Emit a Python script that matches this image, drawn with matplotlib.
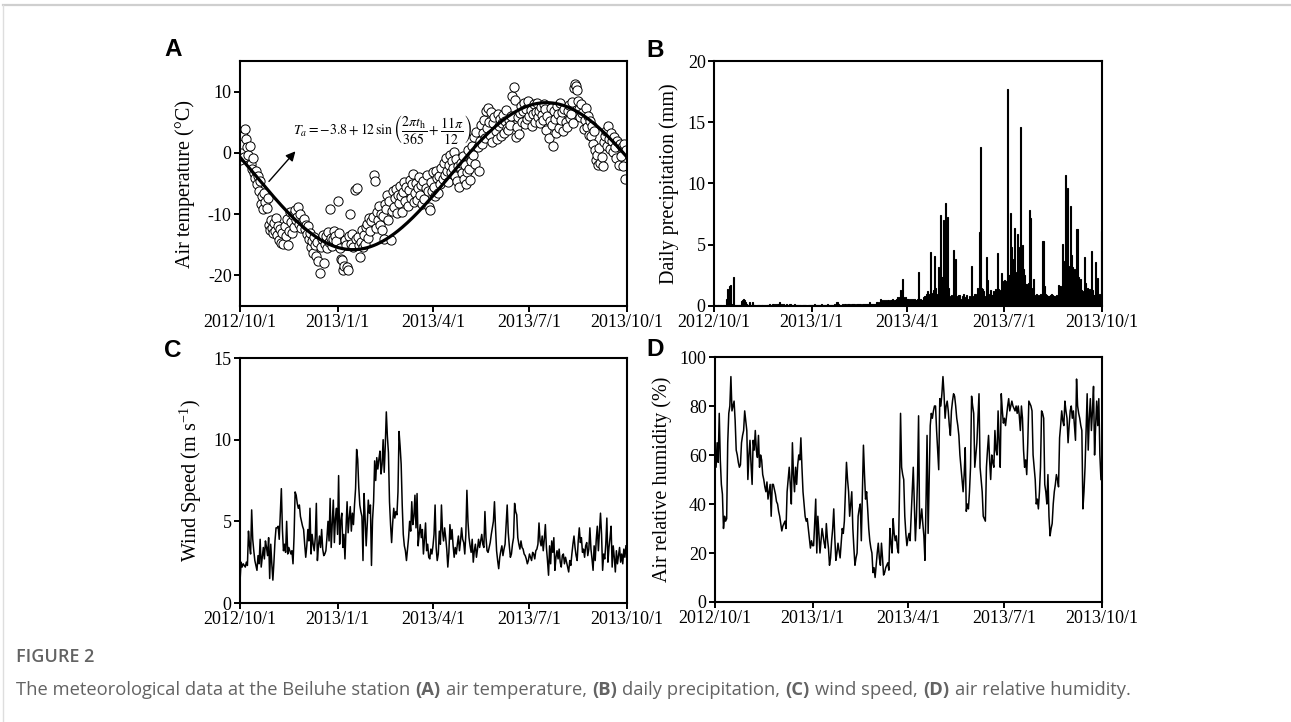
import numpy as np
import pandas as pd
import matplotlib
matplotlib.use('Agg')
import matplotlib.pyplot as plt
from matplotlib.lines import Line2D

plt.rcParams['font.family'] = ['Liberation Serif', 'DejaVu Serif']
plt.rcParams['mathtext.fontset'] = 'stix'
plt.rcParams['axes.unicode_minus'] = False

# daily record, 2012/10/1 .. 2013/9/30
start = pd.Timestamp('2012-10-01')
end = pd.Timestamp('2013-10-01')
days = pd.date_range(start, periods=365)

tick_dates = ['2012-10-01', '2013-01-01', '2013-04-01', '2013-07-01', '2013-10-01']
tick_labels = ['2012/10/1', '2013/1/1', '2013/4/1', '2013/7/1', '2013/10/1']

# fitted curve: Ta = a + b*sin(2*pi*t/365 + 11*pi/12)
fit_a = -3.8
fit_b = 12.0
fit_phase = 11 * np.pi / 12

air_temp = [
    -1.2, 0.3, 1.5, 2.8, -0.6, 3.9, 2.2, 0.9, -0.4, 1.1,
    -1.8, -2.6, -0.9, -3.3, -4.1, -2.9, -5.0, -3.8, -6.2, -4.6,
    -8.4, -7.0, -9.2, -6.5, -8.1, -9.0, -7.4, -11.8, -12.6, -10.9,
    -12.2, -13.0, -11.4, -12.8, -10.6, -13.4, -11.9, -14.2, -12.4, -14.7,
    -13.1, -14.9, -12.0, -13.6, -10.8, -15.1, -12.7, -9.6, -11.3, -13.0,
    -10.2, -12.1, -9.4, -11.0, -10.5, -8.9, -11.6, -10.0, -12.3, -11.1,
    -10.8, -12.5, -11.8, -13.2, -12.0, -14.1, -13.0, -15.4, -14.4, -16.3,
    -13.8, -15.0, -16.8, -14.5, -17.6, -19.6, -15.3, -14.1, -13.4, -17.9,
    -14.8, -13.6, -15.5, -12.9, -14.6, -9.1, -13.9, -15.2, -14.0, -12.8,
    -13.5, -14.4, -7.8, -13.1, -15.6, -17.3, -17.5, -19.1, -18.4, -14.2,
    -15.0, -18.6, -19.2, -13.6, -10.0, -14.8, -13.2, -15.4, -6.1, -14.0,
    -5.7, -13.8, -15.1, -17.0, -14.5, -12.6, -15.3, -13.4, -14.8, -12.1,
    -11.6, -13.9, -10.7, -12.8, -11.2, -10.4, -3.6, -4.6, -12.2, -9.6,
    -10.9, -8.7, -11.8, -9.9, -12.6, -10.3, -14.1, -8.4, -9.2, -6.9,
    -11.0, -7.8, -14.2, -9.5, -6.2, -8.9, -7.4, -5.9, -9.8, -6.8,
    -8.2, -5.4, -7.1, -9.6, -6.4, -4.8, -7.9, -5.6, -8.6, -6.0,
    -4.4, -7.3, -5.1, -3.5, -8.1, -6.6, -4.9, -7.7, -5.8, -3.9,
    -6.9, -5.2, -8.4, -4.6, -7.5, -5.8, -3.6, -6.3, -8.8, -9.4,
    -4.7, -6.2, -3.2, -5.5, -7.0, -2.9, -4.1, -6.5, -3.8, -5.0,
    -2.5, -4.3, -1.7, -3.6, -0.8, -2.9, -4.8, -1.9, -0.4, -3.1,
    -1.3, -2.4, 0.2, -3.8, -1.0, -4.6, -2.2, -5.5, -1.6, -3.3,
    -0.5, -4.2, -2.0, -5.0, -3.1, 0.4, -2.7, -4.4, -1.4, 1.2,
    -0.3, 2.6, -1.8, 3.4, 0.9, -2.9, 2.0, 4.6, 1.5, 3.2,
    5.3, 2.4, 6.8, 4.1, 7.4, 5.0, 3.0, 6.6, 1.8, 4.8,
    5.9, 3.6, 2.3, 6.4, 4.4, 5.6, 2.8, 4.9, 6.2, 3.3,
    5.2, 7.0, 4.0, 3.7, 5.4, 4.5, 6.1, 9.3, 10.7, 8.6,
    2.6, 4.2, 5.8, 3.1, 6.5, 7.6, 5.0, 6.9, 8.1, 4.7,
    7.2, 5.5, 8.4, 6.0, 7.0, 4.4, 6.3, 7.9, 5.1, 6.7,
    8.2, 5.8, 6.9, 4.9, 7.5, 6.2, 5.4, 8.0, 7.1, 3.8,
    6.0, 2.4, 5.2, 7.3, 4.6, 1.2, 6.8, 5.6, 3.3, 7.7,
    6.4, 4.1, 8.1, 5.3, 6.6, 3.6, 7.2, 5.0, 4.3, 6.9,
    7.8, 5.7, 6.3, 8.3, 4.8, 10.6, 11.3, 11.0, 10.2, 8.4,
    7.1, 5.9, 8.0, 6.5, 3.9, 5.4, 7.4, 4.2, 6.1, 3.0,
    5.2, 2.7, 4.4, 1.5, 3.6, 0.4, -1.1, -0.3, -1.9, 0.8,
    -1.6, -0.6, -2.2, 1.7, 2.8, 3.6, 1.1, 4.4, 2.3, 0.6,
    3.3, 1.9, 0.2, 2.6, 1.0, -0.8, 2.0, -1.9, 1.4, -0.5,
    0.9, -2.2, 1.5, -4.2, 0.4,
]

precip = [
    0.1, 0.1, 0.0, 0.1, 0.1, 0.0, 0.1, 0.0, 0.1, 0.0,
    0.0, 0.6, 1.4, 0.2, 1.6, 1.7, 0.1, 0.2, 2.4, 0.1,
    0.0, 0.1, 0.0, 0.1, 0.1, 0.4, 0.5, 0.6, 0.5, 0.3,
    0.2, 0.1, 0.1, 0.3, 0.1, 0.1, 0.3, 0.1, 0.1, 0.0,
    0.1, 0.1, 0.1, 0.0, 0.1, 0.1, 0.0, 0.1, 0.0, 0.1,
    0.1, 0.1, 0.2, 0.1, 0.1, 0.2, 0.1, 0.2, 0.1, 0.2,
    0.2, 0.3, 0.1, 0.2, 0.1, 0.2, 0.1, 0.1, 0.2, 0.1,
    0.1, 0.2, 0.1, 0.1, 0.1, 0.2, 0.1, 0.1, 0.1, 0.1,
    0.1, 0.1, 0.0, 0.1, 0.1, 0.1, 0.1, 0.0, 0.1, 0.1,
    0.1, 0.1, 0.1, 0.1, 0.2, 0.1, 0.1, 0.1, 0.1, 0.1,
    0.1, 0.2, 0.1, 0.1, 0.1, 0.1, 0.2, 0.1, 0.1, 0.1,
    0.1, 0.1, 0.1, 0.2, 0.1, 0.3, 0.3, 0.2, 0.1, 0.1,
    0.2, 0.1, 0.2, 0.2, 0.1, 0.2, 0.2, 0.2, 0.1, 0.2,
    0.2, 0.2, 0.2, 0.1, 0.2, 0.2, 0.2, 0.2, 0.1, 0.2,
    0.2, 0.2, 0.2, 0.2, 0.2, 0.2, 0.3, 0.2, 0.2, 0.2,
    0.2, 0.2, 0.3, 0.3, 0.2, 0.3, 0.6, 0.5, 0.4, 0.5,
    0.4, 0.5, 0.4, 0.5, 0.5, 0.4, 0.5, 0.6, 0.4, 0.5,
    0.5, 0.6, 0.7, 0.6, 0.7, 1.3, 0.7, 2.2, 0.7, 0.6,
    0.7, 0.6, 0.6, 0.5, 0.6, 0.5, 0.6, 0.5, 0.6, 0.5,
    0.5, 0.6, 2.8, 0.5, 0.6, 0.5, 0.5, 0.7, 0.8, 1.0,
    1.2, 0.9, 1.0, 4.4, 1.1, 0.8, 1.3, 4.1, 1.5, 0.7,
    1.0, 3.2, 1.8, 7.4, 2.4, 7.0, 1.6, 8.4, 1.2, 7.3,
    1.5, 0.8, 0.6, 0.9, 0.7, 4.6, 1.1, 3.8, 0.8, 0.6,
    0.9, 0.5, 0.6, 0.8, 1.0, 0.7, 0.6, 0.9, 0.6, 0.5,
    0.8, 0.6, 3.3, 0.8, 0.7, 1.0, 0.9, 1.5, 1.4, 6.0,
    13.0, 1.5, 1.4, 1.2, 0.8, 0.6, 4.0, 2.1, 1.0, 0.8,
    1.3, 0.9, 1.2, 0.8, 1.4, 1.1, 4.3, 1.4, 0.9, 1.3,
    2.7, 2.0, 1.8, 2.1, 2.0, 1.9, 17.7, 2.5, 7.6, 4.8,
    3.8, 2.2, 6.4, 2.8, 2.4, 5.9, 4.8, 2.5, 14.6, 4.7,
    5.0, 3.0, 2.5, 1.8, 1.2, 1.9, 7.8, 7.2, 1.5, 1.1,
    2.2, 0.9, 0.8, 1.0, 0.7, 0.9, 0.8, 1.0, 0.8, 5.3,
    1.6, 1.0, 0.9, 0.8, 0.8, 0.8, 0.9, 1.0, 0.9, 0.8,
    0.8, 0.7, 0.9, 0.8, 1.7, 1.6, 1.2, 5.1, 3.7, 1.4,
    10.7, 3.1, 9.6, 3.3, 2.8, 8.2, 4.2, 3.2, 3.0, 2.3,
    3.0, 6.3, 2.4, 2.1, 2.2, 1.3, 1.1, 1.2, 4.0, 1.9,
    1.2, 1.5, 1.1, 1.4, 1.0, 4.5, 1.3, 0.9, 3.6, 1.7,
    2.3, 0.4, 1.0, 0.2, 6.1,
]

wind = [
    1.3, 2.5, 2.2, 2.4, 2.3, 2.2, 2.5, 2.3, 4.4, 3.5,
    3.0, 5.7, 3.9, 3.2, 2.6, 2.3, 2.0, 2.9, 2.4, 3.9,
    2.2, 2.8, 3.4, 2.7, 3.8, 3.4, 2.9, 4.0, 1.5, 3.6,
    2.4, 1.4, 2.5, 3.8, 4.6, 4.6, 4.7, 3.9, 5.5, 7.0,
    4.5, 3.2, 3.6, 3.1, 5.0, 3.0, 3.4, 3.2, 3.0, 3.2,
    2.4, 4.1, 6.8, 6.6, 6.1, 5.8, 6.0, 5.3, 5.0, 4.7,
    4.5, 3.6, 2.8, 3.5, 4.5, 3.8, 5.8, 3.0, 4.2, 3.6,
    3.2, 4.0, 6.1, 2.6, 3.5, 4.1, 3.4, 4.5, 3.3, 2.9,
    3.0, 3.2, 4.0, 5.0, 3.8, 6.4, 3.4, 4.8, 6.3, 3.7,
    5.2, 5.8, 4.2, 7.8, 3.6, 5.0, 5.5, 3.4, 4.2, 2.7,
    4.6, 6.2, 4.3, 5.2, 5.9, 4.4, 5.5, 4.8, 6.0, 7.0,
    9.4, 8.8, 7.1, 6.0, 5.6, 5.3, 2.6, 6.7, 5.2, 3.5,
    4.8, 6.3, 5.5, 6.0, 2.3, 5.1, 6.2, 8.7, 7.5, 8.9,
    8.2, 8.8, 9.3, 7.9, 8.5, 10.0, 8.0, 9.6, 11.7, 10.2,
    9.2, 6.2, 4.8, 3.7, 4.9, 5.8, 5.2, 5.6, 5.4, 6.8,
    10.5, 9.6, 8.5, 6.0, 4.2, 3.5, 3.2, 2.6, 3.3, 4.0,
    5.0, 4.4, 6.2, 4.8, 5.3, 6.6, 4.6, 6.7, 3.5, 4.2,
    4.8, 4.0, 4.5, 3.0, 3.9, 4.9, 3.2, 3.6, 2.8, 2.7,
    3.3, 3.0, 3.5, 4.2, 6.0, 3.4, 2.6, 3.0, 4.4, 3.6,
    6.0, 4.4, 3.8, 4.6, 4.0, 3.3, 2.2, 3.1, 4.8, 3.9,
    4.5, 3.5, 2.8, 3.4, 3.0, 3.6, 4.1, 3.2, 3.8, 4.6,
    3.9, 3.7, 3.0, 4.2, 6.9, 5.0, 4.0, 3.5, 3.1, 3.9,
    2.5, 3.2, 3.6, 2.8, 3.3, 3.9, 3.4, 3.8, 4.2, 3.6,
    3.4, 5.6, 4.0, 3.2, 3.1, 3.4, 3.7, 4.2, 4.6, 5.0,
    6.2, 4.6, 3.2, 2.6, 2.1, 2.8, 3.2, 3.5, 2.9, 3.3,
    3.6, 4.8, 6.0, 4.3, 3.5, 2.8, 3.0, 3.6, 4.0, 6.1,
    5.6, 5.4, 4.0, 3.6, 3.3, 3.8, 3.4, 3.3, 3.0, 2.9,
    2.7, 2.4, 2.6, 3.0, 2.8, 2.6, 3.1, 3.0, 2.7, 3.2,
    3.3, 3.6, 4.9, 3.8, 3.5, 4.1, 3.2, 3.9, 4.8, 3.4,
    2.6, 1.7, 3.5, 2.4, 3.8, 3.1, 4.0, 2.0, 2.8, 3.2,
    2.7, 3.3, 2.5, 2.2, 2.9, 3.0, 2.4, 2.8, 2.5, 2.2,
    1.9, 2.6, 2.3, 3.0, 3.6, 4.1, 3.4, 2.9, 2.6, 3.8,
    4.6, 3.7, 4.0, 3.1, 3.3, 2.8, 3.5, 3.7, 2.9, 3.3,
    4.6, 3.3, 2.7, 2.0, 3.5, 2.6, 3.9, 4.7, 3.2, 4.4,
    5.5, 4.2, 2.0, 3.0, 2.7, 3.6, 5.2, 2.5, 3.4, 4.0,
    4.7, 2.2, 3.5, 2.8, 1.9, 3.2, 2.4, 2.9, 3.4, 2.5,
    3.0, 2.4, 3.3, 2.8, 3.5,
]

humidity = [
    60, 55, 65, 57, 77, 58, 48, 44, 30, 35,
    33, 34, 65, 77, 80, 92, 78, 80, 82, 74,
    62, 60, 57, 55, 56, 65, 68, 70, 78, 74,
    70, 50, 60, 66, 56, 48, 66, 62, 70, 62,
    59, 68, 55, 60, 58, 52, 50, 47, 45, 49,
    42, 45, 48, 35, 48, 48, 46, 44, 41, 40,
    37, 35, 32, 29, 31, 32, 33, 30, 45, 50,
    55, 48, 40, 65, 52, 45, 55, 48, 56, 60,
    58, 67, 55, 45, 40, 35, 33, 34, 30, 26,
    22, 25, 23, 23, 32, 42, 20, 35, 28, 20,
    25, 30, 27, 24, 22, 32, 26, 22, 15, 18,
    25, 30, 38, 26, 17, 20, 24, 21, 18, 24,
    30, 28, 33, 45, 57, 50, 45, 35, 40, 45,
    30, 22, 15, 18, 20, 35, 38, 40, 25, 45,
    64, 52, 42, 45, 38, 30, 25, 22, 20, 12,
    14, 10, 15, 20, 24, 18, 15, 24, 18, 11,
    12, 14, 15, 16, 13, 30, 24, 20, 34, 28,
    25, 27, 22, 20, 45, 77, 55, 52, 50, 35,
    28, 23, 26, 28, 25, 35, 45, 55, 40, 25,
    35, 50, 76, 30, 34, 38, 32, 27, 17, 40,
    68, 28, 50, 72, 77, 75, 78, 80, 80, 70,
    62, 54, 83, 80, 85, 92, 85, 75, 80, 82,
    78, 72, 68, 78, 82, 85, 84, 80, 75, 72,
    68, 60, 55, 50, 45, 52, 63, 37, 40, 38,
    45, 55, 84, 80, 77, 55, 60, 65, 75, 85,
    55, 50, 45, 35, 34, 33, 55, 62, 68, 58,
    50, 60, 57, 55, 70, 62, 60, 78, 65, 55,
    85, 78, 73, 75, 72, 76, 80, 83, 78, 80,
    82, 80, 79, 78, 80, 77, 80, 76, 70, 80,
    75, 62, 55, 58, 52, 65, 82, 81, 80, 78,
    60, 55, 50, 40, 42, 38, 45, 55, 78, 77,
    75, 48, 45, 40, 52, 35, 27, 30, 32, 40,
    45, 48, 52, 50, 47, 67, 72, 78, 74, 72,
    82, 78, 75, 65, 72, 78, 80, 75, 78, 72,
    66, 91, 80, 77, 75, 72, 70, 38, 45, 55,
    70, 85, 62, 75, 83, 70, 78, 88, 60, 72,
    82, 72, 83, 60, 50,
]

W, H = 1291, 722
fig = plt.figure(figsize=(W / 100, H / 100), dpi=100)


def box(l, t, r, b):
    # pixel box -> figure fraction rect
    return [l / W, 1 - b / H, (r - l) / W, (b - t) / H]


def style_axes(ax, ylim, yticks, ylabel, label_x):
    ax.set_xlim(start, end)
    ax.set_ylim(*ylim)
    ax.set_yticks(yticks)
    ax.set_xticks(pd.to_datetime(tick_dates))
    ax.set_xticklabels(tick_labels)
    ax.tick_params(direction='out', length=4, width=1.4, labelsize=13,
                   top=False, right=False, pad=2)
    for s in ax.spines.values():
        s.set_linewidth(1.5)
    ax.set_ylabel(ylabel, fontsize=14.5)
    ax.yaxis.set_label_coords(label_x, 0.5)


axA = fig.add_axes(box(240, 61, 627, 306))
axB = fig.add_axes(box(714, 61, 1102, 306))
axC = fig.add_axes(box(240, 358, 627, 603))
axD = fig.add_axes(box(715, 357, 1102, 602))

# A: air temperature and fitted sine
t = np.arange(0, 366)
fit = fit_a + fit_b * np.sin(2 * np.pi * t / 365 + fit_phase)
axA.scatter(days, air_temp, s=44, facecolors='white', edgecolors='black',
            linewidths=0.7, zorder=2)
axA.plot(start + pd.to_timedelta(t, 'D'), fit, color='black', lw=2.3, zorder=3)
style_axes(axA, (-25, 15), [-20, -10, 0, 10], 'Air temperature (°C)', -0.115)
axA.text(0.137, 0.72,
         r'$T_a=-3.8+12\,\sin\left(\dfrac{2\pi t_{\mathrm{h}}}{365}+\dfrac{11\pi}{12}\right)$',
         transform=axA.transAxes, fontsize=10, ha='left', va='center')
axA.annotate('', xy=(0.148, 0.64), xytext=(0.07, 0.50),
             xycoords='axes fraction', textcoords='axes fraction',
             arrowprops=dict(arrowstyle='-|>', color='black', lw=1.0,
                             mutation_scale=14))

# B: daily precipitation
axB.bar(days, precip, width=1.0, color='black', linewidth=0.8,
        edgecolor='black', align='edge')
style_axes(axB, (0, 20), [0, 5, 10, 15, 20], 'Daily precipitation (mm)', -0.09)

# C: wind speed
axC.plot(days, wind, color='black', lw=1.1)
style_axes(axC, (0, 15), [0, 5, 10, 15], r'Wind Speed (m s$^{\mathregular{-1}}$)', -0.092)

# D: relative humidity
axD.plot(days, humidity, color='black', lw=1.1)
style_axes(axD, (0, 100), [0, 20, 40, 60, 80, 100], 'Air relative humidity (%)', -0.11)

# panel letters
for letter, (px, py) in zip('ABCD', [(164, 56), (646, 57), (164, 357), (646, 356)]):
    fig.text(px / W, 1 - py / H, letter, fontsize=17.5, fontweight='bold',
             family='Liberation Sans', ha='left', va='baseline')

# page frame lines
fig.add_artist(Line2D([3 / W, 1], [1 - 5 / H, 1 - 5 / H], color='#cfcfcf', lw=1.6))
fig.add_artist(Line2D([3 / W, 3 / W], [0, 1 - 5 / H], color='#dedede', lw=1.0))

# caption
cap = fig.add_axes([0, 0, 1, 1])
cap.axis('off')
cap.set_zorder(-1)
cap.text(16 / W, 1 - 662 / H, 'FIGURE 2', fontsize=13, fontweight='semibold',
         family='Open Sans', color='#636363', ha='left', va='baseline')
pieces = [('The meteorological data at the Beiluhe station', 'normal'),
          ('(A)', 'bold'), ('air temperature,', 'normal'),
          ('(B)', 'bold'), ('daily precipitation,', 'normal'),
          ('(C)', 'bold'), ('wind speed,', 'normal'),
          ('(D)', 'bold'), ('air relative humidity.', 'normal')]
prev = None
for s, w in pieces:
    kw = dict(fontsize=13.2, family='Open Sans', fontweight=w,
              color='#636363', ha='left', va='bottom')
    if prev is None:
        prev = cap.text(16 / W, 1 - 699 / H, s, **kw)
    else:
        prev = cap.annotate(s, xy=(1, 0), xycoords=prev, xytext=(3.8, 0),
                            textcoords='offset points', **kw)

fig.savefig('out.png', dpi=100)
